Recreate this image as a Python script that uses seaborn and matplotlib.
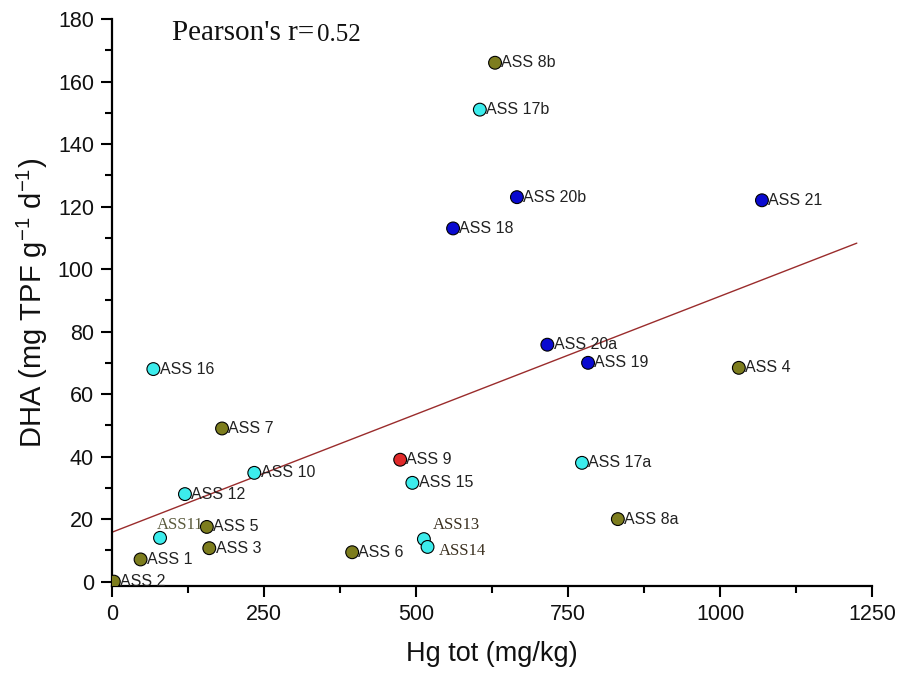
import numpy as np
import pandas as pd
import matplotlib
matplotlib.use("Agg")
import matplotlib.pyplot as plt
import seaborn as sns

# Sampling sites
sites = ["ASS 8b", "ASS 17b", "ASS 20b", "ASS 18", "ASS 21", "ASS 20a", "ASS 19",
         "ASS 4", "ASS 17a", "ASS 8a", "ASS 16", "ASS 7", "ASS 10", "ASS 12",
         "ASS 9", "ASS 15", "ASS11", "ASS 5", "ASS 3", "ASS 1", "ASS 2", "ASS 6",
         "ASS13", "ASS14"]
# Total mercury (mg/kg)
hg_tot = [630, 605, 666, 561, 1069, 716, 783, 1031, 773, 832, 68, 181, 234, 120,
          474, 494, 79, 156, 160, 47, 3, 395, 513, 519]
# Dehydrogenase activity (mg TPF g-1 d-1)
dha = [166, 151, 123, 113, 122, 75.8, 70, 68.4, 38, 20, 68, 49, 34.8, 28,
       39, 31.6, 14, 17.5, 10.7, 7.1, 0, 9.4, 13.6, 11.1]
# Site group
group = ["A", "B", "C", "C", "C", "C", "C", "A", "B", "A", "B", "A", "B", "B",
         "D", "B", "B", "A", "A", "A", "A", "A", "B", "B"]

group_colors = {"A": "#7d7d1e", "B": "#3cecec", "C": "#0a0ad0", "D": "#e02a2a"}

# Linear fit reported with the correlation
fit_intercept = 15.8
fit_slope = 0.0755
fit_x_end = 1225
pearson_r = 0.52

df = pd.DataFrame({"site": sites, "hg": hg_tot, "dha": dha, "group": group})

sns.set_theme(style="ticks")
plt.rcParams["font.family"] = ["Liberation Sans", "DejaVu Sans"]

fig = plt.figure(figsize=(9.12, 6.76), dpi=100)
ax = fig.add_axes([112 / 912, 1 - 586 / 676, 760 / 912, 567 / 676])

fx = np.array([0, fit_x_end])
ax.plot(fx, fit_intercept + fit_slope * fx, color="#9a2c2c", lw=1.0, zorder=2)

sns.scatterplot(data=df, x="hg", y="dha", hue="group", palette=group_colors,
                s=85, edgecolor="black", linewidth=0.8, legend=False, ax=ax,
                zorder=3)

# Label placement (offset in points, font family, colour)
special = {
    "ASS11": ((-2, 9), "serif", "#5a5a3c"),
    "ASS13": ((6.5, 10), "serif", "#3a2f1e"),
    "ASS14": ((8, -3), "serif", "#3a2f1e"),
}
for name, x, y in zip(sites, hg_tot, dha):
    if name in special:
        off, fam, col = special[name]
        ax.annotate(name, (x, y), xytext=off, textcoords="offset points",
                    ha="left", va="center", fontsize=12, color=col,
                    family=["Liberation Serif", "DejaVu Serif"], zorder=4)
    else:
        ax.annotate(name, (x, y), xytext=(4.5, 0), textcoords="offset points",
                    ha="left", va="center", fontsize=11.5, color="#222222",
                    zorder=4, annotation_clip=True)

ax.set_xlim(0, 1250)
ax.set_ylim(-1.4, 180)
ax.set_xticks([0, 250, 500, 750, 1000, 1250])
ax.set_xticks(np.arange(125, 1250, 250), minor=True)
ax.set_yticks(np.arange(0, 181, 20))
ax.set_yticks(np.arange(10, 180, 20), minor=True)

for side in ["top", "right"]:
    ax.spines[side].set_visible(False)
for side in ["left", "bottom"]:
    ax.spines[side].set_linewidth(1.6)
    ax.spines[side].set_color("black")

ax.tick_params(axis="both", which="major", direction="out", length=8, width=1.5,
               labelsize=15.5, pad=5, colors="black", labelcolor="#111111")
ax.tick_params(axis="both", which="minor", direction="out", length=5, width=1.5,
               colors="black")

ax.set_xlabel("Hg tot (mg/kg)", fontsize=19.5, color="#111111")
ax.set_ylabel("DHA (mg TPF g$^{\\mathregular{-1}}$ d$^{\\mathregular{-1}}$)",
              fontsize=21, color="#111111")
ax.xaxis.set_label_coords(0.5, -0.097)
ax.yaxis.set_label_coords(-0.082, 0.5)

t1 = ax.text(0.079, 0.975, "Pearson's r=", transform=ax.transAxes, fontsize=21,
             family=["Liberation Serif", "DejaVu Serif"], ha="left",
             va="center", color="#111111")
ax.annotate(f"{pearson_r:.2f}", xy=(1, 0), xycoords=t1, xytext=(2, 0),
            textcoords="offset points", ha="left", va="bottom", fontsize=18,
            family=["Liberation Serif", "DejaVu Serif"], color="#111111")

fig.savefig("out.png", dpi=100, facecolor="white")
